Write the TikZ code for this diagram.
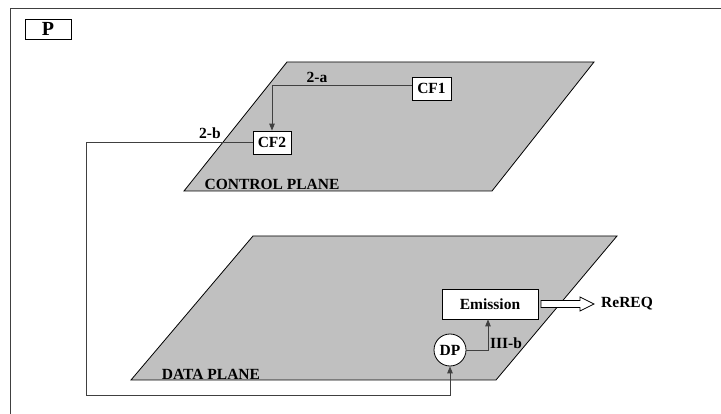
\documentclass[tikz,border=0pt]{standalone}
\usepackage{fontspec}
\setmainfont{Liberation Serif}
\usetikzlibrary{arrows.meta}
\definecolor{planegray}{HTML}{C0C0C0}
\definecolor{linegray}{HTML}{404040}
\begin{document}
\begin{tikzpicture}[x=1pt,y=-1pt,
  plane/.style={fill=planegray,draw=black,line width=0.8pt},
  boxnode/.style={draw=black,fill=white,line width=0.8pt,inner sep=0pt,font=\fontsize{15.5}{17}\selectfont\bfseries},
  lbl/.style={inner sep=0pt,font=\fontsize{15.5}{17}\selectfont\bfseries},
  conn/.style={draw=linegray,line width=0.9pt},
  tip/.style={-{Triangle[length=7pt,width=5.5pt]}}
]
\useasboundingbox (0,0) rectangle (721,414);
\fill[white] (0,0) rectangle (721,414);
% frame
\draw[linegray,line width=1pt] (10,414) -- (10,9) -- (721,9);
% P box
\node[draw=black,line width=0.9pt,minimum width=46pt,minimum height=20pt,inner sep=0pt,font=\fontsize{20}{22}\selectfont\bfseries] (P) at (48,29) {P};
% planes
\path[plane] (287,62) -- (594,62) -- (492,191) -- (184,191) -- cycle;
\path[plane] (253,236) -- (617,236) -- (496,380) -- (131,380) -- cycle;
\node[lbl] (cplane) at (272,184) {CONTROL PLANE};
\node[lbl] (dplane) at (211,374.5) {DATA PLANE};
% nodes
\node[boxnode,minimum width=39pt,minimum height=23pt] (CF1) at (431.5,88.5) {CF1};
\node[boxnode,minimum width=38pt,minimum height=23pt] (CF2) at (272,142.5) {CF2};
\node[boxnode,minimum width=96pt,minimum height=30pt] (Em) at (490,304) {Emission};
\node[boxnode,circle,minimum size=32pt] (DP) at (450,350) {DP};
% labels
\node[lbl] (la) at (317,77) {2-a};
\node[lbl] (lb) at (210,133) {2-b};
\node[lbl] (lc) at (506,343) {III-b};
\node[lbl,anchor=west] (rq) at (601,304) {ReREQ};
% connectors
\coordinate (loopTL) at (86,142.5);
\coordinate (loopBL) at (86,395);
\draw[conn,tip] ([yshift=3.5pt]CF1.west) -| (CF2.north);
\draw[conn,tip] (CF2.west) -- (loopTL) -- (loopBL) -| (DP.south);
\draw[conn,tip] (DP.east) -| ([xshift=-2pt]Em.south);
% hollow arrow
\coordinate (ha) at (541,304);
\draw[black,fill=white,line width=0.8pt] (ha) ++(0,-3.5) -- ++(39,0) -- ++(0,-3.5) -- ++(14,7) -- ++(-14,7) -- ++(0,-3.5) -- ++(-39,0) -- cycle;
\end{tikzpicture}
\end{document}
